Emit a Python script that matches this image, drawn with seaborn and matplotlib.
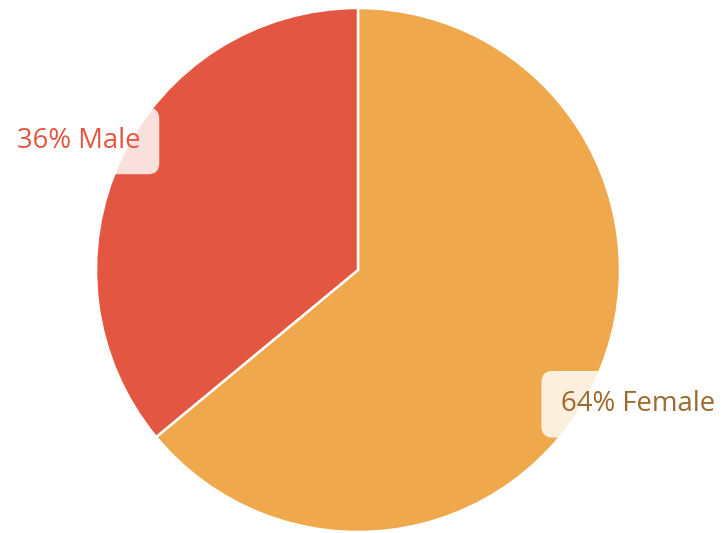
import numpy as np
import matplotlib.pyplot as plt
import seaborn as sns

genders = ["Female", "Male"]
shares = [64, 36]
colors = ["#EFA84B", "#E35641"]
text_colors = ["#9B6B2F", "#E35641"]

sns.set_theme(style="white")
plt.rcParams["font.family"] = ["Open Sans", "DejaVu Sans"]

fig = plt.figure(figsize=(7.27, 5.33), dpi=100)
ax = fig.add_axes([0, 0, 1, 1])

wedges, _ = ax.pie(
    shares,
    colors=colors,
    startangle=90,
    counterclock=False,
    wedgeprops=dict(edgecolor="white", linewidth=1.8),
)

# labels sit outside each slice, along its mid angle
for w, g, s, tc in zip(wedges, genders, shares, text_colors):
    mid = np.deg2rad((w.theta1 + w.theta2) / 2)
    x, y = 1.18 * np.cos(mid), 1.18 * np.sin(mid)
    ax.text(
        x, y - 0.01, f"{s}% {g}",
        ha="center", va="center", fontsize=19.8, color=tc,
        bbox=dict(boxstyle="round,pad=0.7,rounding_size=0.4",
                  facecolor="white", edgecolor="none", alpha=0.82),
    )

ax.set_xlim(-358 / 262, 369 / 262)
ax.set_ylim(-263 / 262, 270 / 262)
ax.set_aspect("auto")
ax.axis("off")

fig.savefig("out.png", dpi=100)
plt.close(fig)
